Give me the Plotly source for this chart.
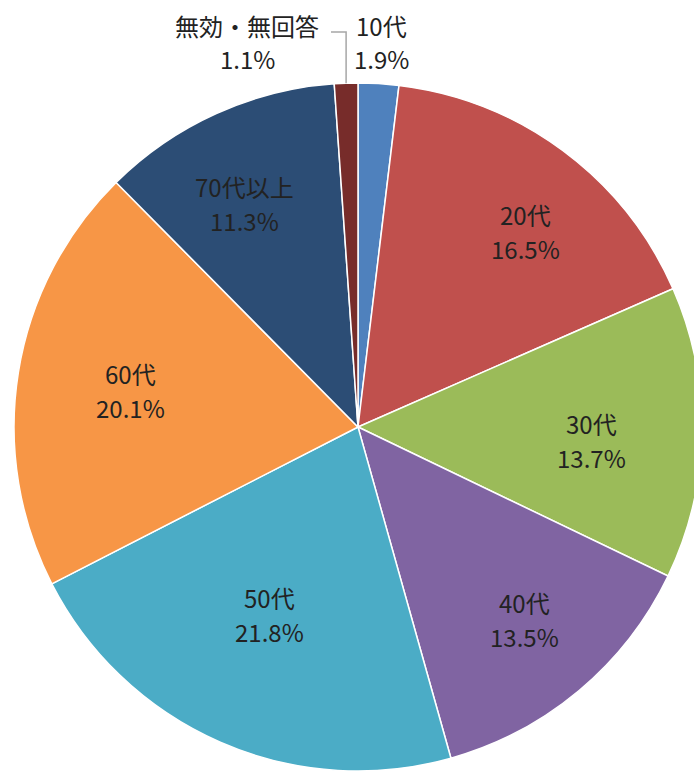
import math
import plotly.graph_objects as go

# ---- data ----
categories = ["10代", "20代", "30代", "40代", "50代", "60代", "70代以上", "無効・無回答"]
shares = [1.9, 16.5, 13.7, 13.5, 21.8, 20.1, 11.3, 1.1]
colors = ["#4F81BD", "#C0504D", "#9BBB59", "#8064A2", "#4BACC6", "#F79646", "#2C4D75", "#772C2A"]

# ---- layout (pixels) ----
W, H = 704, 771
ML, MR, MT, MB = 14, 2, 83, 0
PW, PH = W - ML - MR, H - MT - MB
R = min(PW, PH) / 2.0
CX, CY = ML + PW / 2.0, MT + PH / 2.0

def to_paper(px, py):
    return (px - ML) / PW, 1 - (py - MT) / PH

# label placement tweaks for inside labels: (radius fraction, angle offset deg)
inside_place = {
    "20代": (0.749, 3.9),
    "30代": (0.681, 2.3),
    "40代": (0.740, -0.9),
    "50代": (0.603, 1.7),
    "60代": (0.671, 0.0),
    "70代以上": (0.729, -2.6),
}
LINE_GAP = 34
FONT = dict(family="Noto Sans CJK JP, Noto Sans, sans-serif", size=24, color="#222222")

fig = go.Figure(go.Pie(
    labels=categories,
    values=shares,
    marker=dict(colors=colors, line=dict(color="white", width=1.5)),
    sort=False,
    direction="clockwise",
    rotation=0,
    textinfo="none",
    hoverinfo="label+percent",
    showlegend=False,
    domain=dict(x=[0, 1], y=[0, 1]),
))

total = sum(shares)
cum = 0.0
mids = {}
for name, v in zip(categories, shares):
    mids[name] = (cum + v / 2) / total * 360.0
    cum += v

annotations = []
shapes = []

def add_label(name, value, px, py):
    for txt, dy in ((name, -LINE_GAP / 2), (f"{value:.1f}%", LINE_GAP / 2)):
        x, y = to_paper(px, py + dy)
        annotations.append(dict(x=x, y=y, xref="paper", yref="paper", text=txt,
                                showarrow=False, xanchor="center", yanchor="middle",
                                font=FONT))

for name, v in zip(categories, shares):
    if name in inside_place:
        frac, off = inside_place[name]
        a = math.radians(mids[name] + off)
        px = CX + frac * R * math.sin(a)
        py = CY - frac * R * math.cos(a)
        add_label(name, v, px, py)

# outside labels for the two small slices
add_label(categories[0], shares[0], 382, 42)
add_label(categories[-1], shares[-1], 247, 42)

# leader line for 無効・無回答
a = math.radians(mids[categories[-1]])
ex, ey = CX + R * math.sin(a), CY - R * math.cos(a)
p0 = to_paper(ex, ey)
p1 = to_paper(ex, 32)
p2 = to_paper(331, 32)
shapes.append(dict(type="path", xref="paper", yref="paper",
                   path=f"M {p0[0]},{p0[1]} L {p1[0]},{p1[1]} L {p2[0]},{p2[1]}",
                   line=dict(color="#A6A6A6", width=1.5)))

fig.update_layout(
    width=W, height=H, autosize=False,
    margin=dict(l=ML, r=MR, t=MT, b=MB, pad=0),
    paper_bgcolor="white", plot_bgcolor="white",
    annotations=annotations, shapes=shapes,
)

fig.write_html("out.html",
               config={"displayModeBar": False},
               post_script="document.body.style.margin='0';document.body.style.overflow='hidden';")
